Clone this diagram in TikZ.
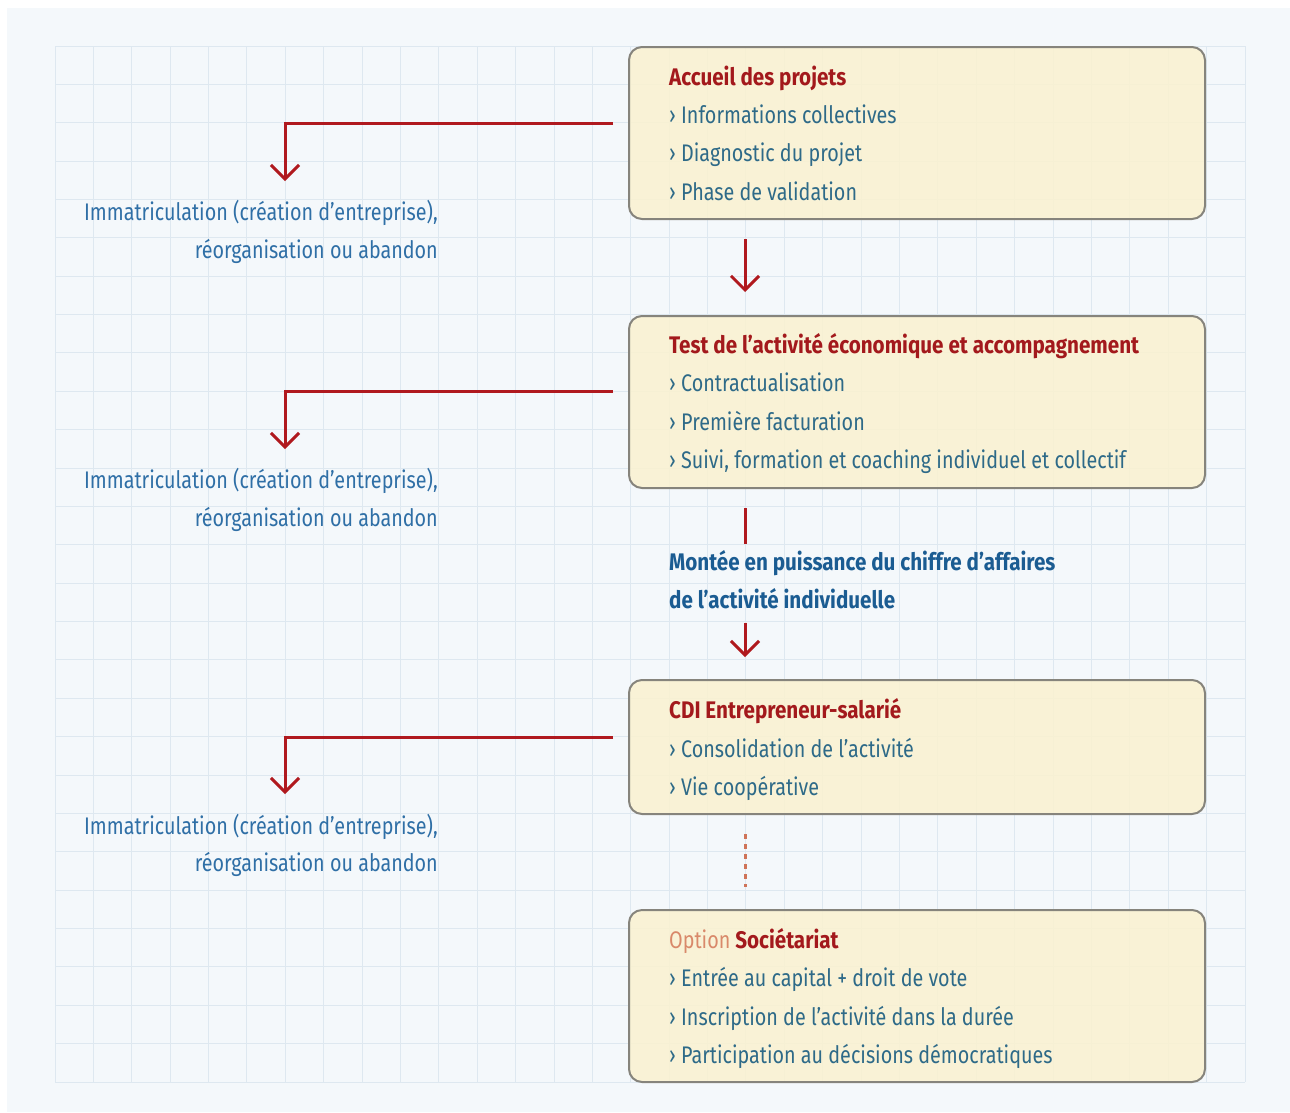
\documentclass[tikz,border=0pt]{standalone}
\usepackage{fontspec}
\setmainfont{Fira Sans}[FakeStretch=0.823, BoldFeatures={FakeStretch=0.86}]
\usetikzlibrary{arrows.meta}

\definecolor{pagebg}{HTML}{F4F8FB}
\definecolor{gridblue}{HTML}{DEE8F0}
\definecolor{boxfill}{HTML}{FBF2D0}
\definecolor{boxline}{HTML}{86847C}
\definecolor{titlered}{HTML}{A3191C}
\definecolor{itemblue}{HTML}{2E6A88}
\definecolor{outblue}{HTML}{2F6FA6}
\definecolor{growblue}{HTML}{1B5C92}
\definecolor{arrowred}{HTML}{B0191E}
\definecolor{dotred}{HTML}{CF7459}
\definecolor{optorange}{HTML}{D9896A}

\tikzset{
  box/.style={draw=boxline, line width=2pt, rounded corners=13pt, fill=boxfill,
    fill opacity=0.85, text opacity=1, minimum width=576pt, inner sep=0pt},
  head/.style={anchor=base west, inner sep=0pt, text=titlered,
    font=\fontsize{24}{28}\selectfont\bfseries},
  item/.style={anchor=base west, inner sep=0pt, text=itemblue,
    font=\fontsize{24}{28}\selectfont},
  outcome/.style={anchor=base east, inner sep=0pt, text=outblue,
    font=\fontsize{24}{28}\selectfont},
  growtext/.style={anchor=base west, inner sep=0pt, text=growblue,
    font=\fontsize{24}{28}\selectfont\bfseries},
  gridline/.style={draw=gridblue, line width=1pt},
  link/.style={draw=arrowred, line width=3pt},
  flow/.style={link, -{Straight Barb[length=14pt,width=28pt]}},
  option/.style={draw=dotred, line width=3pt, dash pattern=on 5pt off 5pt},
}

\begin{document}
\begin{tikzpicture}[x=1pt, y=-1pt]
\useasboundingbox (0,0) rectangle (1290,1112);
\fill[white] (0,0) rectangle (1290,1112);
\fill[pagebg] (7,8) rectangle (1290,1112);

% squared paper
\foreach \i in {0,...,31}
  \draw[gridline] ({55+38.387*\i},46) -- ({55+38.387*\i},1082);
\foreach \j in {0,...,27}
  \draw[gridline] (55,{46+38.37*\j}) -- (1245,{46+38.37*\j});

% stages
\node[box, minimum height=172pt] (acc) at (917,133) {};
\node[box, minimum height=172pt] (test) at (917,402) {};
\node[box, minimum height=134pt] (cdi) at (917,747) {};
\node[box, minimum height=172pt] (soc) at (917,996) {};

\node[head] (acch) at (669,85) {Accueil des projets};
\node[item] (acc1) at (669,123) {› Informations collectives};
\node[item] (acc2) at (669,161) {› Diagnostic du projet};
\node[item] (acc3) at (669,200) {› Phase de validation};

\node[head] (testh) at (669,353) {Test de l’activité économique et accompagnement};
\node[item] (test1) at (669,391) {› Contractualisation};
\node[item] (test2) at (669,430) {› Première facturation};
\node[item] (test3) at (669,468) {› Suivi, formation et coaching individuel et collectif};

\node[growtext] (grow1) at (669,570) {Montée en puissance du chiffre d’affaires};
\node[growtext] (grow2) at (669,608) {de l’activité individuelle};

\node[head] (cdih) at (669,718) {CDI Entrepreneur-salarié};
\node[item] (cdi1) at (669,757) {› Consolidation de l’activité};
\node[item] (cdi2) at (669,795) {› Vie coopérative};

\node[head] (soch) at (669,948) {{\mdseries\color{optorange}Option} Sociétariat};
\node[item] (soc1) at (669,986) {› Entrée au capital + droit de vote};
\node[item] (soc2) at (669,1025) {› Inscription de l’activité dans la durée};
\node[item] (soc3) at (669,1063) {› Participation au décisions démocratiques};

% exits
\node[outcome] (out1a) at (438,220) {Immatriculation (création d’entreprise),};
\node[outcome] (out1b) at (438,258) {réorganisation ou abandon};
\node[outcome] (out2a) at (438,488) {Immatriculation (création d’entreprise),};
\node[outcome] (out2b) at (438,526) {réorganisation ou abandon};
\node[outcome] (out3a) at (438,834) {Immatriculation (création d’entreprise),};
\node[outcome] (out3b) at (438,871) {réorganisation ou abandon};

\coordinate (colx) at (745,0);
\coordinate (fork1) at (613,123);
\coordinate (drop1) at (285,181);
\coordinate (fork2) at (613,391);
\coordinate (drop2) at (285,449);
\coordinate (fork3) at (613,737);
\coordinate (drop3) at (285,794);

\draw[flow] (fork1) -| (drop1);
\draw[flow] (fork2) -| (drop2);
\draw[flow] (fork3) -| (drop3);

\draw[flow] ([yshift=-19pt]acc.south -| colx) -- ([yshift=23pt]test.north -| colx);
\draw[link] ([yshift=-19pt]test.south -| colx) -- ([yshift=6pt]grow1.north -| colx);
\draw[flow] ([yshift=-14pt]grow2.south -| colx) -- ([yshift=22pt]cdi.north -| colx);
\draw[option] ([yshift=-19pt]cdi.south -| colx) -- ([yshift=22pt]soc.north -| colx);
\end{tikzpicture}
\end{document}
